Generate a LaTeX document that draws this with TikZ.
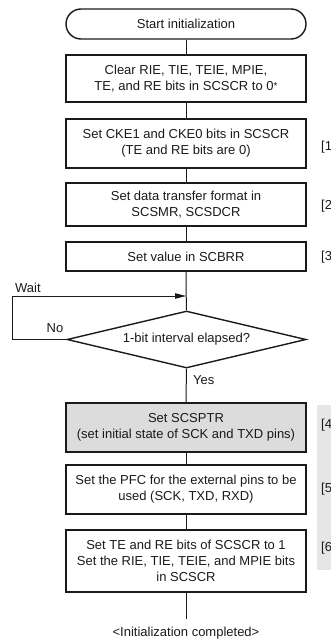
\documentclass[tikz,border=0pt]{standalone}
\usepackage{fontspec}
\setmainfont{Liberation Sans}
\usetikzlibrary{arrows.meta,shapes.geometric}
\definecolor{inkc}{HTML}{1A1A1A}
\definecolor{boxgrey}{HTML}{DCDCDC}
\definecolor{stripgrey}{HTML}{E6E6E6}
\tikzset{
  flowbox/.style={draw=inkc, line width=1.4pt, minimum width=240pt, inner sep=0pt, align=center,
    font=\fontsize{13}{15.8}\selectfont, text=inkc},
  termbox/.style={flowbox, rounded corners=15pt, minimum height=30pt},
  decbox/.style={draw=inkc, line width=1.4pt, diamond, aspect=4.2, minimum width=239pt, minimum height=57pt,
    inner sep=0pt, font=\fontsize{13}{15.8}\selectfont, text=inkc},
  conn/.style={draw=inkc, line width=1pt},
  lbl/.style={inner sep=0pt, font=\fontsize{13}{15.8}\selectfont, text=inkc},
}
\begin{document}
\begin{tikzpicture}[x=1pt,y=1pt]
\useasboundingbox (0,0) rectangle (330,-642);
\fill[stripgrey] (317,-405) rectangle (340,-570);

\node[termbox] (t0) at (186,-24) {Start initialization};
\node[flowbox, minimum height=47pt] (b1) at (186,-78.5) {Clear RIE, TIE, TEIE, MPIE,\\TE, and RE bits in SCSCR to 0{\fontsize{10}{10}\selectfont\raisebox{0.5pt}{*}}};
\node[flowbox, minimum height=49pt] (b2) at (186,-143.5) {Set CKE1 and CKE0 bits in SCSCR\\(TE and RE bits are 0)};
\node[flowbox, minimum height=43pt] (b3) at (186,-204.5) {Set data transfer format in\\SCSMR, SCSDCR};
\node[flowbox, minimum height=29pt] (b4) at (186,-256.5) {Set value in SCBRR};
\node[decbox] (d1) at (186.5,-339.5) {1-bit interval elapsed?};
\node[flowbox, fill=boxgrey, minimum height=49pt] (b5) at (186,-427.5) {Set SCSPTR\\(set initial state of SCK and TXD pins)};
\node[flowbox, minimum height=49pt] (b6) at (186,-489.5) {Set the PFC for the external pins to be\\used (SCK, TXD, RXD)};
\node[flowbox, minimum height=62pt] (b7) at (186,-561) {Set TE and RE bits of SCSCR to 1\\Set the RIE, TIE, TEIE, and MPIE bits\\in SCSCR};
\node[lbl] (done) at (186,-633) {<Initialization completed>};
\coordinate (endpt) at (186,-619);
\coordinate (wl) at (12,-296);
\coordinate (wj) at (186,-296);

\draw[conn] (t0) -- (b1);
\draw[conn] (b1) -- (b2);
\draw[conn] (b2) -- (b3);
\draw[conn] (b3) -- (b4);
\draw[conn] (b4) -- (d1);
\draw[conn] (d1) -- (b5);
\draw[conn] (b5) -- (b6);
\draw[conn] (b6) -- (b7);
\draw[conn] (b7) -- (endpt);
\draw[conn, line width=0.9pt, -{Triangle[length=11pt,width=5.5pt]}] (d1.west) -| (wl) -- (wj);

\node[lbl, anchor=base west] (wait) at (15,-292.5) {Wait};
\node[lbl, anchor=base] (no) at (55,-332.5) {No};
\node[lbl, anchor=base west] (yes) at (193,-384.5) {Yes};

\node[lbl, anchor=west] (n1) at (321,-147) {[1};
\node[lbl, anchor=west] (n2) at (321,-206) {[2};
\node[lbl, anchor=west] (n3) at (321,-257) {[3};
\node[lbl, anchor=west] (n4) at (321,-425) {[4};
\node[lbl, anchor=west] (n5) at (321,-489) {[5};
\node[lbl, anchor=west] (n6) at (321,-548) {[6};
\end{tikzpicture}
\end{document}
